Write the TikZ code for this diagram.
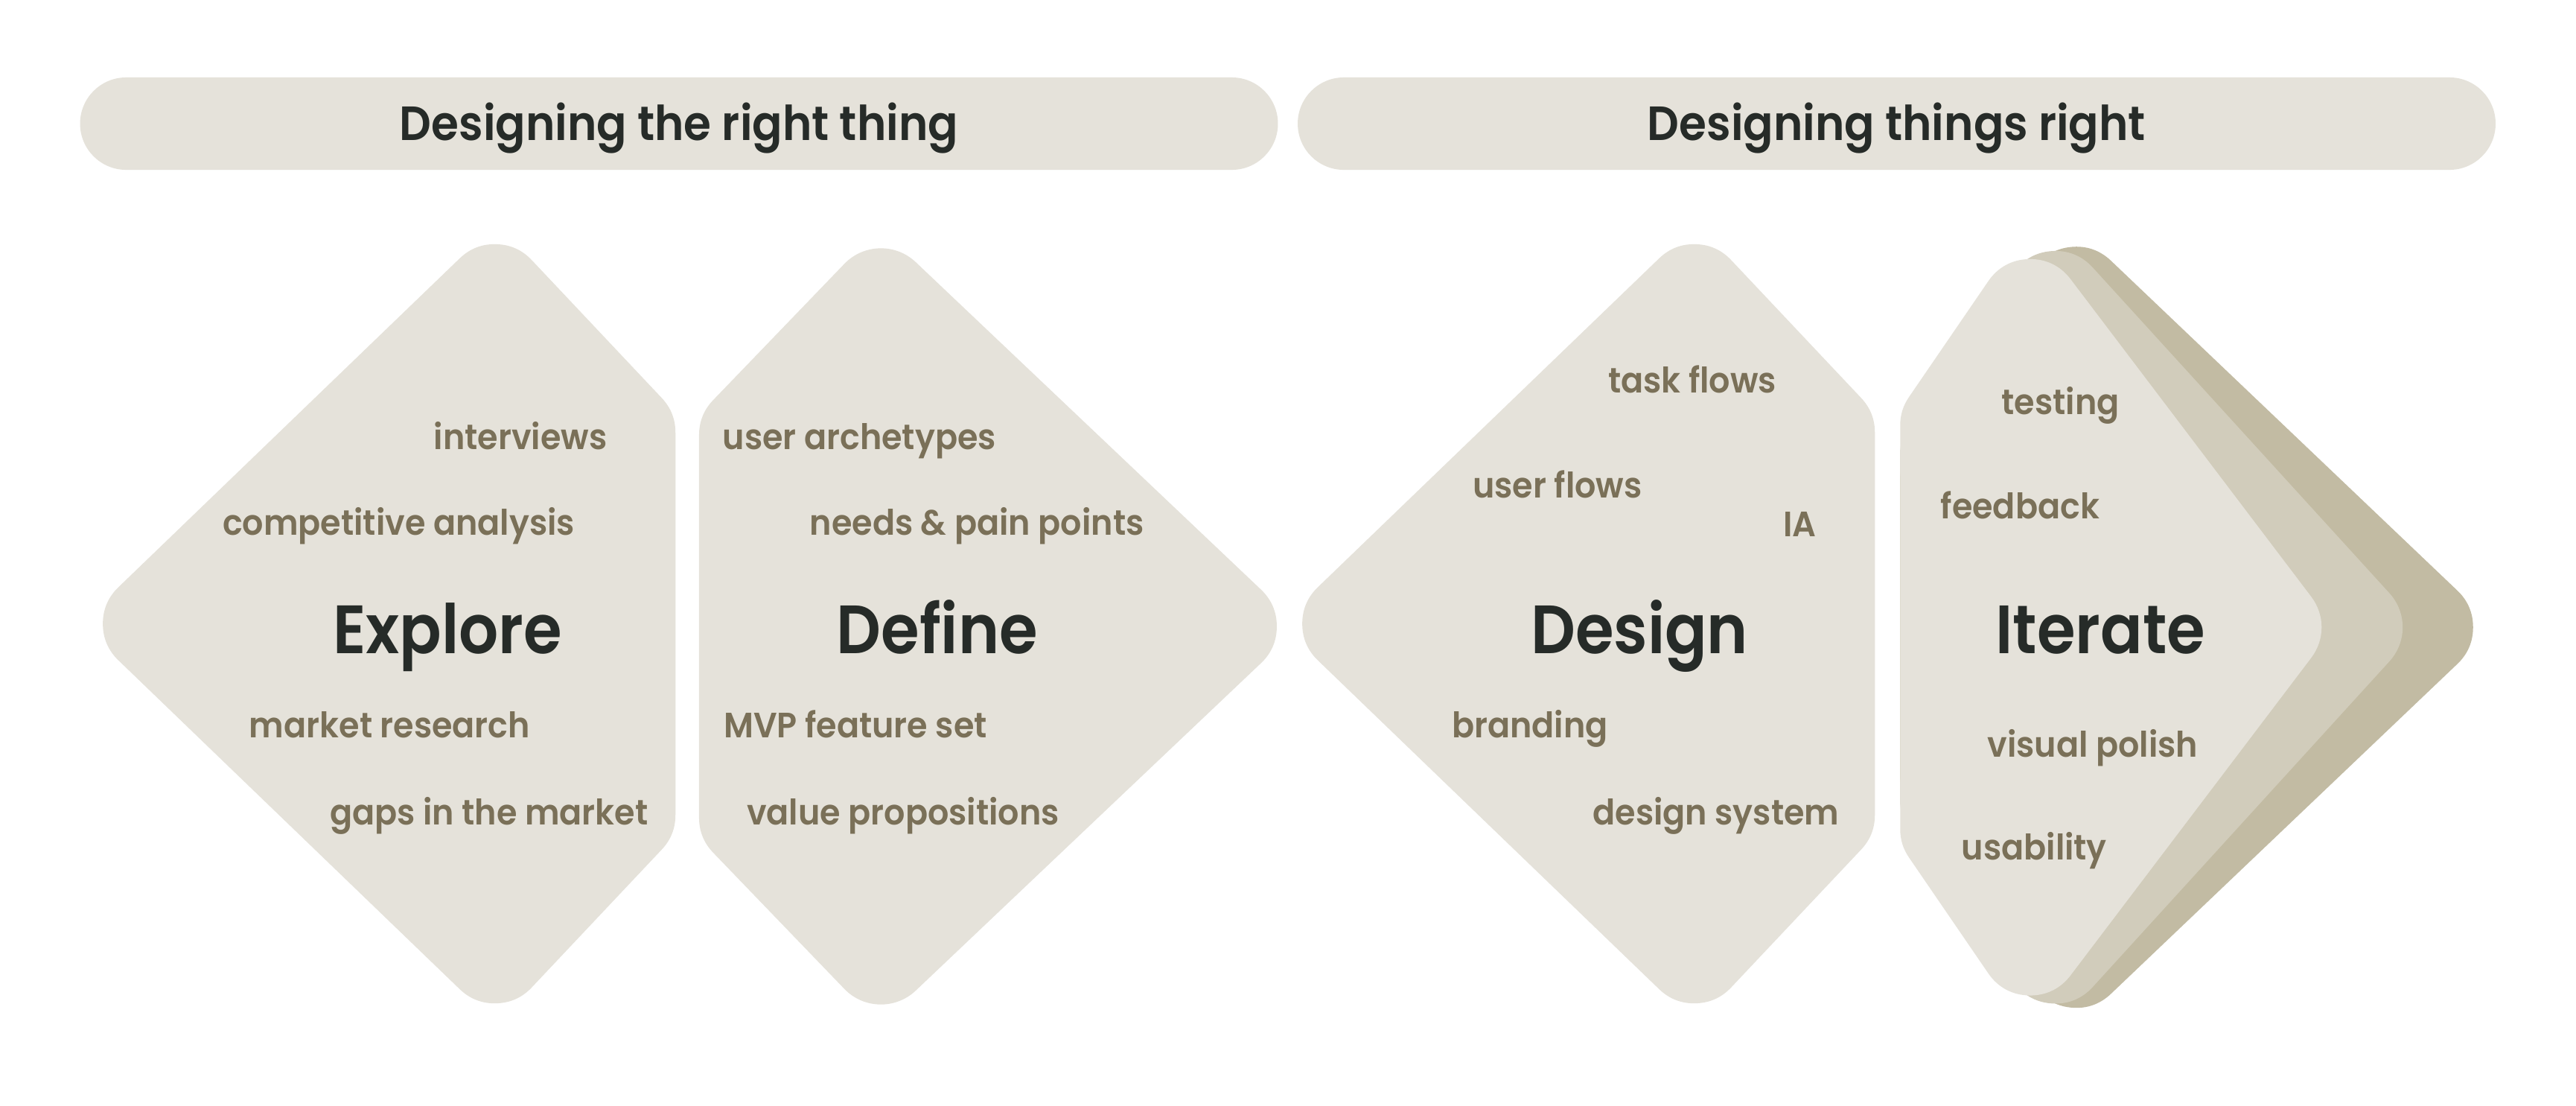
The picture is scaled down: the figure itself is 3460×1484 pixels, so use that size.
\documentclass[tikz,border=0pt]{standalone}
\usepackage{fontspec}
\setmainfont{Poppins}[UprightFont={* SemiBold}, FakeStretch=0.925]
\newfontfamily\headfont{Poppins}[UprightFont={* SemiBold}, FakeStretch=0.91]
\newfontfamily\itemfont{Poppins}[UprightFont={* SemiBold}, FakeStretch=0.94]
\usepackage{xcolor}
\usetikzlibrary{positioning}
\definecolor{phasefill}{HTML}{E5E2DA}
\definecolor{layermid}{HTML}{D1CCBB}
\definecolor{layerback}{HTML}{C2BBA3}
\definecolor{itemtext}{HTML}{7A7058}
\definecolor{headtext}{HTML}{262B28}
\tikzset{
      banner/.style   = {fill=phasefill, rounded corners=0.62cm, inner sep=0pt,
                         minimum width=16.08cm, minimum height=1.24cm,
                         text height=12.8pt, text depth=0pt, text=headtext,
                         font=\fontsize{18.35}{22}\selectfont},
      phase/.style    = {fill=#1, draw=#1, line width=1.36cm, line join=round},
      phase/.default  = phasefill,
      heading/.style  = {anchor=base west, inner sep=0pt, text=headtext,
                         font=\headfont\fontsize{26.1}{30}\selectfont},
      item/.style     = {anchor=base west, inner sep=0pt, text=itemtext,
                         font=\itemfont\fontsize{13.45}{16}\selectfont}
    }
\begin{document}
\begin{tikzpicture}
  \begin{scope}[x=0.01cm, y=-0.01cm]
    % Canvas
    \fill[white] (0,0) rectangle (3460,1484);
    \useasboundingbox (0,0) rectangle (3460,1484);
    % Top banners
    \node[banner] (rightthing)  at (912,166)    {Designing the right thing};
    \node[banner] (thingsright) at (2547.5,166) {Designing things right};
    % Explore
    \filldraw[phase] (664.7,395.9) -- (839.2,580.9) -- (839.2,1094.1) -- (664.7,1279.1) -- (206.2,837.5) -- cycle;
    % Define
    \filldraw[phase] (1183.2,401.4) -- (1646.9,841) -- (1183.2,1280.6) -- (1007,1097.7) -- (1007,584.3) -- cycle;
    % Design
    \filldraw[phase] (2275.7,395.9) -- (2450.2,580.9) -- (2450.2,1094.1) -- (2275.7,1279.1) -- (1817.2,837.5) -- cycle;
    % Iterate - stacked layers, back to front
    \filldraw[phase=layerback] (2788.4,399.3) -- (3253.7,842.2) -- (2788.4,1285.1) -- (2620.3,1039.7) -- (2620.3,644.7) -- cycle;
    \filldraw[phase=layermid] (2760.5,405) -- (3159,842.2) -- (2760.5,1279.4) -- (2620.3,1074.7) -- (2620.3,609.7) -- cycle;
    \filldraw[phase] (2726.8,415.9) -- (3050,842.2) -- (2726.8,1268.5) -- (2620.3,1113) -- (2620.3,571.4) -- cycle;
    % Explore labels
    \node[item] (interviews)  at (582.1,603)    {interviews};
    \node[item] (competitive) at (298.3,718.7)  {competitive analysis};
    \node[heading] (explore)  at (446.4,877.1)  {Explore};
    \node[item] (research)    at (334.2,990.8)  {market research};
    \node[item] (gaps)        at (442.3,1107.2) {gaps in the market};
    % Define labels
    \node[item] (archetypes)  at (970,603)      {user archetypes};
    \node[item] (needs)       at (1087.1,718.7) {needs \& pain points};
    \node[heading] (define)   at (1122.9,877.1) {Define};
    \node[item] (mvp)         at (971.4,990.8)  {MVP feature set};
    \node[item] (valueprops)  at (1002.4,1107.2) {value propositions};
    % Design labels
    \node[item] (taskflows)   at (2159.4,527.3) {task flows};
    \node[item] (userflows)   at (1977.6,668.5) {user flows};
    \node[item] (ia)          at (2394.9,720.1) {IA};
    \node[heading] (design)   at (2055.4,877.1) {Design};
    \node[item] (branding)    at (1949.3,990.8) {branding};
    \node[item] (designsys)   at (2138.7,1107.2) {design system};
    % Iterate labels
    \node[item] (testing)     at (2688,556.2)   {testing};
    \node[item] (feedback)    at (2606,696)     {feedback};
    \node[heading] (iterate)  at (2680,877.1)   {Iterate};
    \node[item] (polish)      at (2669,1016.3)  {visual polish};
    \node[item] (usability)   at (2634,1154)    {usability};
  \end{scope}
\end{tikzpicture}
\end{document}
